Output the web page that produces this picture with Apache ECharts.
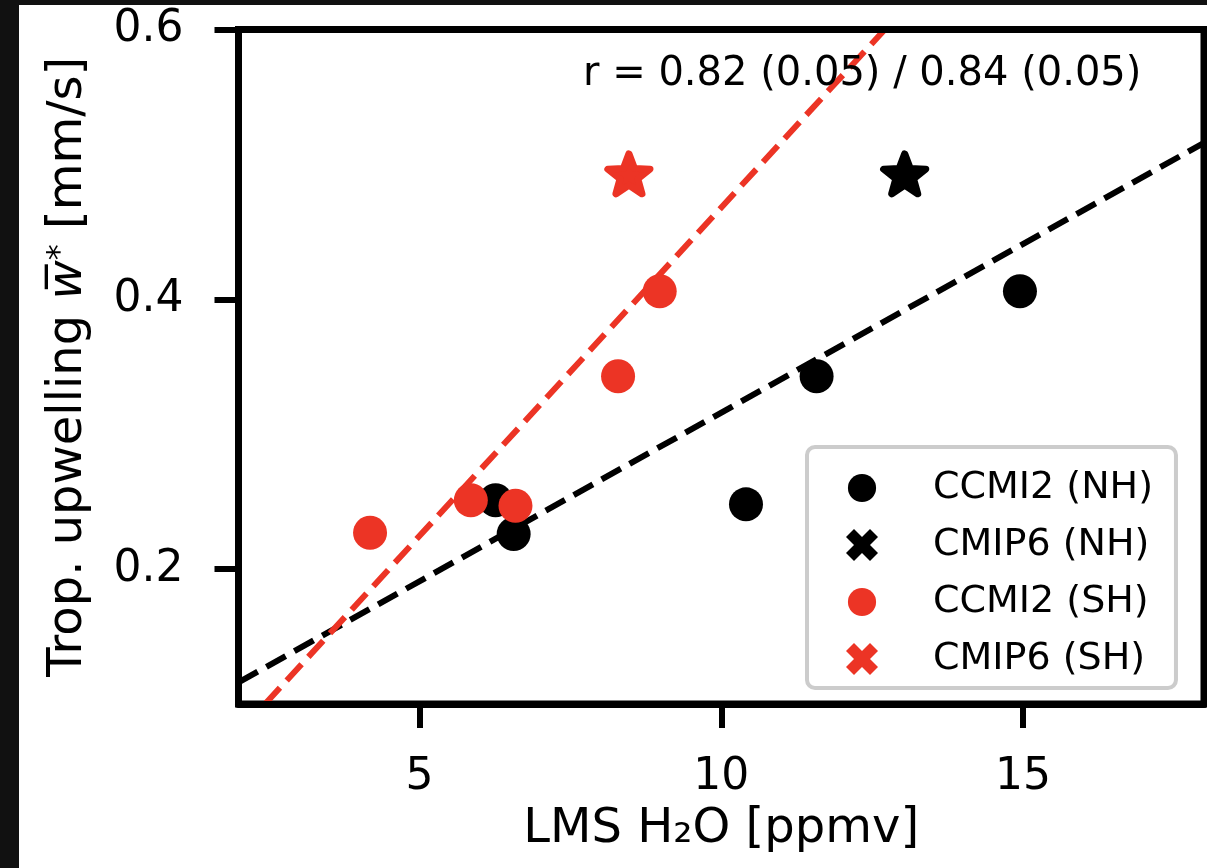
<!DOCTYPE html>
<html>
<head>
<meta charset="utf-8">
<script src="https://cdn.jsdelivr.net/npm/echarts@6/dist/echarts.min.js"></script>
<style>
  html, body { margin: 0; padding: 0; background: #111111; width: 1207px; height: 868px; overflow: hidden; }
  #chart { position: absolute; left: 19px; top: 5px; width: 1188px; height: 863px; background: #ffffff; }
</style>
</head>
<body>
<div id="chart"></div>
<script>
// ---- data ----
const xRange = [2, 18];
const yRange = [0.1, 0.6];
const xTicks = [5, 10, 15];
const yTicks = [0.2, 0.4, 0.6];

const seriesNames = ['CCMI2 (NH)', 'CMIP6 (NH)', 'CCMI2 (SH)', 'CMIP6 (SH)'];

const ccmi2NH_x = [6.26, 6.56, 10.41, 11.58, 14.95];
const ccmi2NH_y = [0.251, 0.226, 0.248, 0.343, 0.406];
const ccmi2SH_x = [5.85, 4.18, 6.59, 8.29, 8.98];
const ccmi2SH_y = [0.251, 0.227, 0.247, 0.343, 0.406];
const cmip6NH = [[13.04, 0.493]];
const cmip6SH = [[8.47, 0.493]];

// regression lines (end points)
const fitNH = [[2.0, 0.116], [18.0, 0.516]];
const fitSH = [[2.44, 0.1], [12.71, 0.6]];

const annotation = 'r = 0.82 (0.05) / 0.84 (0.05)';

// ---- styling ----
const FONT = 'DejaVu Sans';
const BLACK = '#000000';
const RED = '#ec3425';
const starPath = 'path://M0,-100 L24.7,-34 L95.1,-30.9 L39.9,13 L58.8,80.9 L0,42 L-58.8,80.9 L-39.9,13 L-95.1,-30.9 L-24.7,-34 Z';
const xPath = 'path://M-50,-100 L0,-50 L50,-100 L100,-50 L50,0 L100,50 L50,100 L0,50 L-50,100 L-100,50 L-50,0 L-100,-50 Z';
// circle icon padded inside a slightly larger box so that it is smaller than the X icon
const circleIconPath = 'path://M-100,-100 M100,100 M88,0 A88,88 0 1 1 -88,0 A88,88 0 1 1 88,0 Z';

const zip = (xs, ys) => xs.map((x, i) => [x, ys[i]]);

const chart = echarts.init(document.getElementById('chart'), null, { renderer: 'canvas' });

const axisLineStyle = { show: true, onZero: false, lineStyle: { color: BLACK, width: 7 } };

const option = {
  animation: false,
  backgroundColor: '#ffffff',
  textStyle: { fontFamily: FONT },
  grid: {
    left: 219.5, top: 24.5, right: 3, bottom: 164,
    show: true, borderColor: BLACK, borderWidth: 7, backgroundColor: 'transparent'
  },
  xAxis: [
    {
      type: 'value', min: xRange[0], max: xRange[1], position: 'bottom', z: 10,
      axisLine: axisLineStyle,
      axisTick: { show: true, inside: false, length: 24, lineStyle: { color: BLACK, width: 6 }, customValues: xTicks },
      axisLabel: { customValues: xTicks, fontSize: 44, color: BLACK, margin: 52, fontFamily: FONT },
      splitLine: { show: false },
      name: 'LMS H\u2082O [ppmv]', nameLocation: 'middle', nameGap: 102,
      nameTextStyle: { fontSize: 48, color: BLACK, fontFamily: FONT }
    },
    {
      type: 'value', min: xRange[0], max: xRange[1], position: 'top', z: 10,
      axisLine: axisLineStyle, axisTick: { show: false }, axisLabel: { show: false }, splitLine: { show: false }
    }
  ],
  yAxis: [
    {
      type: 'value', min: yRange[0], max: yRange[1], position: 'left', z: 10,
      axisLine: axisLineStyle,
      axisTick: { show: true, inside: false, length: 24, lineStyle: { color: BLACK, width: 6 }, customValues: yTicks },
      axisLabel: { customValues: yTicks, fontSize: 44, color: BLACK, margin: 55, fontFamily: FONT },
      splitLine: { show: false },
      name: 'Trop. upwelling {w|w\u0305}{s|*} [mm/s]', nameLocation: 'middle', nameGap: 146,
      nameTextStyle: {
        fontSize: 48, color: BLACK, fontFamily: FONT,
        rich: {
          w: { fontSize: 48, fontStyle: 'italic', fontFamily: FONT, color: BLACK },
          s: { fontSize: 32, verticalAlign: 'top', fontFamily: FONT, color: BLACK }
        }
      }
    },
    {
      type: 'value', min: yRange[0], max: yRange[1], position: 'right', z: 10,
      axisLine: axisLineStyle, axisTick: { show: false }, axisLabel: { show: false }, splitLine: { show: false }
    }
  ],
  legend: {
    orient: 'vertical', left: 788, top: 442,
    padding: [22, 23, 10, 39],
    itemWidth: 32, itemHeight: 32, itemGap: 19,
    backgroundColor: '#ffffff', borderColor: '#cccccc', borderWidth: 4, borderRadius: 8,
    textStyle: { fontSize: 38, fontFamily: FONT, color: BLACK, padding: [0, 0, 0, 50], lineHeight: 38 },
    itemStyle: { borderWidth: 0 },
    data: [
      { name: seriesNames[0], icon: circleIconPath },
      { name: seriesNames[1], icon: xPath },
      { name: seriesNames[2], icon: circleIconPath },
      { name: seriesNames[3], icon: xPath }
    ]
  },
  graphic: [
    {
      type: 'text', x: 564, y: 70, z: 20,
      style: { text: annotation, fill: BLACK, font: '40px "DejaVu Sans"', textVerticalAlign: 'middle', verticalAlign: 'middle' }
    }
  ],
  series: [
    {
      type: 'line', name: 'fitNH', data: fitNH, symbol: 'none', silent: true, clip: true, z: 1,
      lineStyle: { color: BLACK, width: 6, type: [22, 10] }
    },
    {
      type: 'line', name: 'fitSH', data: fitSH, symbol: 'none', silent: true, clip: true, z: 1,
      lineStyle: { color: RED, width: 6, type: [22, 10] }
    },
    {
      type: 'scatter', name: seriesNames[0], data: zip(ccmi2NH_x, ccmi2NH_y),
      symbol: 'circle', symbolSize: 34, itemStyle: { color: BLACK, opacity: 1 }, z: 3
    },
    {
      type: 'scatter', name: seriesNames[1], data: cmip6NH,
      symbol: starPath, symbolSize: [42, 40],
      itemStyle: { color: BLACK, borderColor: BLACK, borderWidth: 7, borderJoin: 'round', opacity: 1 }, z: 3
    },
    {
      type: 'scatter', name: seriesNames[2], data: zip(ccmi2SH_x, ccmi2SH_y),
      symbol: 'circle', symbolSize: 34, itemStyle: { color: RED, opacity: 1 }, z: 4
    },
    {
      type: 'scatter', name: seriesNames[3], data: cmip6SH,
      symbol: starPath, symbolSize: [42, 40],
      itemStyle: { color: RED, borderColor: RED, borderWidth: 7, borderJoin: 'round', opacity: 1 }, z: 4
    }
  ]
};

chart.setOption(option);
</script>
</body>
</html>
